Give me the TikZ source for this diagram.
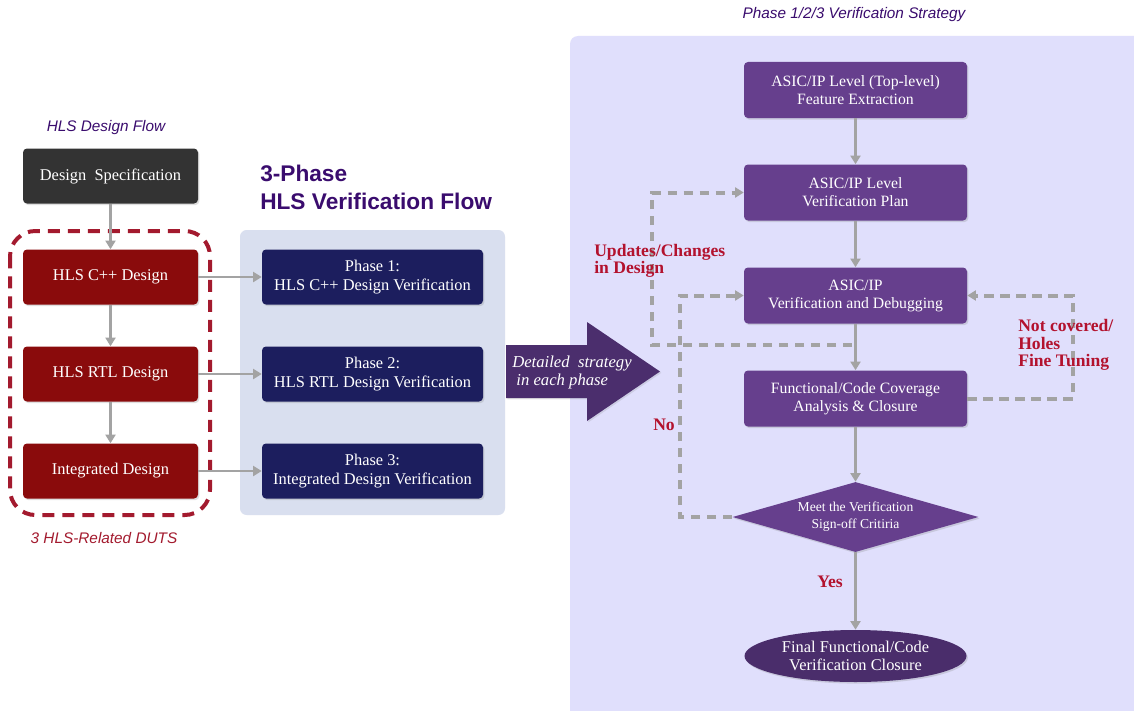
\documentclass[tikz,border=0pt]{standalone}
\usepackage{fontspec}
\setmainfont{Liberation Serif}
\newfontfamily\sansf{Liberation Sans}
\usetikzlibrary{arrows.meta,shapes.geometric,shadows}

\definecolor{specgray}{HTML}{333333}
\definecolor{dutred}{HTML}{8A0B0C}
\definecolor{navyph}{HTML}{1C1E5E}
\definecolor{boxpurple}{HTML}{663F8D}
\definecolor{endpurple}{HTML}{4A2D6B}
\definecolor{bigarrow}{HTML}{4B2E6D}
\definecolor{panelblue}{HTML}{D9DFEF}
\definecolor{panellav}{HTML}{E0DFFC}
\definecolor{dashred}{HTML}{A31A2E}
\definecolor{linegray}{HTML}{A3A3A3}
\definecolor{titlepurple}{HTML}{3A0C6E}
\definecolor{labelred}{HTML}{B3122E}

\tikzset{
  box/.style={rectangle, rounded corners=3pt, text=white, align=center,
    inner sep=2pt, font=\fontsize{12.3}{14}\selectfont,
    drop shadow={opacity=0.25, shadow xshift=1pt, shadow yshift=-1.2pt}},
  dutbox/.style={box, minimum width=131.25pt, minimum height=41.25pt},
  phasebox/.style={box, fill=navyph, minimum width=165.75pt, minimum height=41.25pt},
  stratbox/.style={box, fill=boxpurple, minimum width=167.25pt, minimum height=42pt,
    font=\fontsize{11.8}{13.5}\selectfont},
  flow/.style={draw=linegray, line width=2.2pt, -{Triangle[length=6.5pt,width=7.5pt]}},
  loop/.style={draw=linegray, line width=3pt, dash pattern=on 7pt off 5pt,
    -{Triangle[length=6.5pt,width=7.5pt]}},
  redlabel/.style={text=labelred, font=\fontsize{13.2}{13}\selectfont\bfseries, align=left},
  caption/.style={font=\sansf\itshape\fontsize{11.5}{13}\selectfont}
}

\begin{document}
\begin{tikzpicture}[x=0.75pt,y=-0.75pt]
\useasboundingbox (0,0) rectangle (1134,710);
\fill[white] (0,0) rectangle (1134,710);

% background panels
\fill[panellav, rounded corners=6pt] (570,36) rectangle (1144,720);
\fill[panelblue, rounded corners=5pt] (240,230) rectangle (505,515);

% captions and titles
\node[caption, text=titlepurple] (capflow) at (106,128) {HLS Design Flow};
\node[caption, text=dashred] (capdut) at (104,538) {3 HLS-Related DUTS};
\node[caption, text=titlepurple] (capstrat) at (854,15) {Phase 1/2/3 Verification Strategy};
\node[anchor=west, align=left, text=titlepurple, inner sep=0pt,
  font=\sansf\bfseries\fontsize{17}{21}\selectfont] (title) at (260,187)
  {3-Phase\\HLS Verification Flow};

% HLS design flow
\node[dutbox, fill=specgray] (spec) at (110.5,176) {Design\ \ Specification};
\node[dutbox, fill=dutred] (cpp) at (110.5,277) {HLS C++ Design};
\node[dutbox, fill=dutred] (rtl) at (110.5,374) {HLS RTL Design};
\node[dutbox, fill=dutred] (integ) at (110.5,471) {Integrated Design};

% group of the three DUTs
\draw[dashred, line width=3pt, dash pattern=on 9pt off 6pt, rounded corners=19pt]
  (10,231) rectangle (210,515);

% phase boxes
\node[phasebox] (ph1) at (372.5,277) {Phase 1:\\HLS C++ Design Verification};
\node[phasebox] (ph2) at (372.5,374) {Phase 2:\\HLS RTL Design Verification};
\node[phasebox] (ph3) at (372.5,471) {Phase 3:\\Integrated Design Verification};

\draw[flow] (spec) -- (cpp);
\draw[flow] (cpp) -- (rtl);
\draw[flow] (rtl) -- (integ);
\draw[flow] (cpp) -- (ph1);
\draw[flow] (rtl) -- (ph2);
\draw[flow] (integ) -- (ph3);

% big arrow into the strategy panel
\fill[bigarrow, drop shadow={opacity=0.2, shadow xshift=1pt, shadow yshift=-1pt}]
  (506,345) -- (587,345) -- (587,322) -- (660,371.5) -- (587,421) -- (587,398)
  -- (506,398) -- cycle;
\node[text=white, align=left, inner sep=0pt,
  font=\itshape\fontsize{12.5}{13.5}\selectfont] (detail) at (572,372)
  {Detailed\ \ strategy\\\ in each phase};

% verification strategy flow
\node[stratbox] (feat) at (855.5,90) {ASIC/IP Level (Top-level)\\Feature Extraction};
\node[stratbox] (plan) at (855.5,192.5) {ASIC/IP Level\\Verification Plan};
\node[stratbox] (dbg) at (855.5,295.5) {ASIC/IP\\Verification and Debugging};
\node[stratbox] (cov) at (855.5,398.5) {Functional/Code Coverage\\Analysis \& Closure};
\node[diamond, aspect=3.6, fill=boxpurple, text=white, align=center, inner sep=0pt,
  minimum width=184.5pt, minimum height=52.5pt,
  font=\fontsize{10.2}{13}\selectfont,
  drop shadow={opacity=0.25, shadow xshift=1pt, shadow yshift=-1.2pt}] (dec) at (855.5,517)
  {Meet the Verification\\Sign-off Critiria};
\node[ellipse, fill=endpurple, text=white, align=center, inner sep=0pt,
  minimum width=166.5pt, minimum height=39pt,
  font=\fontsize{12.3}{14}\selectfont,
  drop shadow={opacity=0.25, shadow xshift=1pt, shadow yshift=-1.2pt}] (final) at (855.5,656)
  {Final Functional/Code\\Verification Closure};

\draw[flow] (feat) -- (plan);
\draw[flow] (plan) -- (dbg);
\draw[flow] (dbg) -- (cov);
\draw[flow] (cov) -- (dec);
\draw[flow] (dec) -- (final);

% feedback loops
\coordinate (upd) at (852,345);
\draw[loop] (upd) -- (652,345) |- (plan.west);
\draw[loop] (dec.west) -- (680,517) |- (dbg.west);
\draw[loop] (cov.east) -- (1073,398.5) |- (dbg.east);

% loop labels
\node[redlabel, anchor=west, inner sep=0pt] (lupd) at (594,261) {Updates/Changes\\in Design};
\node[redlabel, anchor=west, inner sep=0pt] (lnot) at (1018,345) {Not covered/\\Holes\\Fine Tuning};
\node[redlabel, inner sep=0pt] (lno) at (664,425) {No};
\node[redlabel, inner sep=0pt] (lyes) at (830,582) {Yes};
\end{tikzpicture}
\end{document}
